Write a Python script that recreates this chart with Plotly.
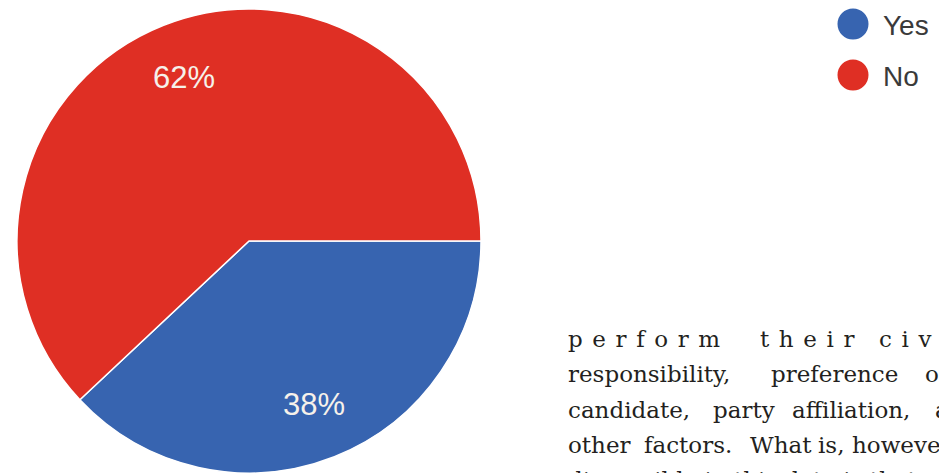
import math
import plotly.graph_objects as go

# ---- data ----
labels = ["Yes", "No"]
values = [38, 62]
colors = ["#3764b0", "#df2f24"]

# surrounding document text (visible in the screenshot)
doc_line1_words = ["perform", "their", "civic"]
doc_line2_words = ["responsibility,", "preference", "of"]
doc_line3_words = ["candidate,", "party", "affiliation,", "and"]
doc_line4_words = ["other", "factors.", "What", "is,", "however,"]
doc_line5 = "discernible in this data is that"

W, H = 939, 473
CX, CY, R = 249, 241, 232  # pie geometry in pixels (from domain below)

fig = go.Figure()
fig.add_trace(go.Pie(
    labels=labels,
    values=values,
    marker=dict(colors=colors, line=dict(color="white", width=1.5)),
    sort=False,
    direction="clockwise",
    rotation=90,
    textinfo="none",
    domain=dict(x=[0, 498 / W], y=[0, 464 / H]),
    showlegend=False,
    hoverinfo="label+percent",
))

def px(x):
    return x / W

def py(y):
    return 1 - y / H

annotations = []
shapes = []

# percentage labels placed along each slice's mid-angle
total = sum(values)
cum = 0
for v in values:
    mid = (cum + v / 2) / total
    cum += v
    th = 2 * math.pi * mid
    lx = CX + 0.76 * R * math.cos(th)
    ly = CY + 0.76 * R * math.sin(th)
    annotations.append(dict(text=f"{round(100 * v / total)}%", xref="paper", yref="paper",
                            x=px(lx), y=py(ly), xanchor="center", yanchor="middle",
                            showarrow=False,
                            font=dict(family="Liberation Sans, Arial, sans-serif", size=31,
                                      color="#f6f1ea")))

# custom legend with circle markers
legend_y = [24, 75]
for lab, col, yc in zip(labels, colors, legend_y):
    shapes.append(dict(type="circle", xref="paper", yref="paper",
                       x0=px(853 - 15.5), x1=px(853 + 15.5),
                       y0=py(yc + 15.5), y1=py(yc - 15.5),
                       fillcolor=col, line=dict(width=0)))
    annotations.append(dict(text=lab, xref="paper", yref="paper",
                            x=px(881), y=py(yc + 1), xanchor="left", yanchor="middle",
                            showarrow=False,
                            font=dict(family="Liberation Sans, Arial, sans-serif", size=28,
                                      color="#3a3a3a")))

# document text
serif = "DejaVu Serif, serif"
txtcol = "#231f20"
sp = " \u200a"

def add_words(words, xs, baseline, spaced=False):
    for w, x in zip(words, xs):
        t = sp.join(list(w)) if spaced else w
        annotations.append(dict(text=t, xref="paper", yref="paper",
                                x=px(x), y=py(baseline - 8.0), xanchor="left", yanchor="middle",
                                showarrow=False, font=dict(family=serif, size=23, color=txtcol)))

add_words(doc_line1_words, [566, 758, 877], 347, spaced=True)
add_words(doc_line2_words, [566, 769, 923], 382)
add_words(doc_line3_words, [566, 711, 790, 933], 418)
add_words(doc_line4_words, [566, 642, 748, 816, 850], 453)
add_words([doc_line5], [566], 488)

fig.update_layout(
    width=W, height=H,
    margin=dict(l=0, r=0, t=0, b=0),
    paper_bgcolor="white",
    plot_bgcolor="white",
    showlegend=False,
    shapes=shapes,
    annotations=annotations,
)

fig.write_html("out.html")
